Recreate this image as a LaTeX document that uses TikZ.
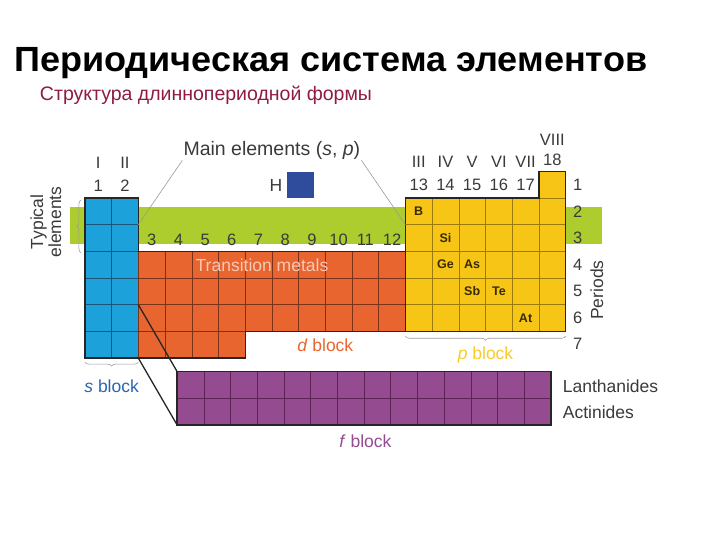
\documentclass[tikz,border=0pt]{standalone}
\usepackage{fontspec}
\setmainfont{Liberation Sans}
\setsansfont{Liberation Sans}
\usetikzlibrary{decorations.pathreplacing}
\definecolor{sblue}{HTML}{1DA1DB}
\definecolor{sgrid}{HTML}{1A5478}
\definecolor{dorange}{HTML}{E8652F}
\definecolor{dgrid}{HTML}{7A3318}
\definecolor{pyellow}{HTML}{F6C516}
\definecolor{pgrid}{HTML}{9C7A0A}
\definecolor{fpurple}{HTML}{954B8F}
\definecolor{fgrid}{HTML}{5E2257}
\definecolor{tgreen}{HTML}{ADCD2F}
\definecolor{hblue}{HTML}{2F4C9C}
\definecolor{labelgray}{HTML}{3A3A3A}
\definecolor{subred}{HTML}{8E1B45}
\definecolor{symbrown}{HTML}{3A2A00}
\definecolor{bracegray}{HTML}{9A9A9A}
\begin{document}
\begin{tikzpicture}[x=26.7pt,y=26.7pt,font=\sffamily,
 cellgrid/.style={step=1,line width=0.5pt},
 blockedge/.style={line width=1.3pt,draw=black!85},
 lbl/.style={text=labelgray,inner sep=1pt,font=\sffamily\fontsize{17.5}{18}\selectfont},
 num/.style={text=labelgray,inner sep=1pt,font=\sffamily\fontsize{16.5}{17}\selectfont},
 sym/.style={text=symbrown,inner sep=1pt,font=\sffamily\bfseries\fontsize{12.5}{13}\selectfont},
 leader/.style={draw=gray!80,line width=0.6pt},
 brc/.style={draw=bracegray,line width=0.6pt,decorate,decoration={brace,amplitude=4pt}}]
\useasboundingbox (-3.18,-6.82) rectangle (23.78,13.41);

% titles
\node[anchor=base west,inner sep=0pt,font=\sffamily\bfseries\fontsize{35}{35}\selectfont] (title) at (-2.66,10.75) {\scalebox{1.03}[1]{Периодическая система элементов}};
\node[anchor=west,inner sep=0pt,text=subred,font=\sffamily\fontsize{19.5}{20}\selectfont] (subtitle) at (-1.69,9.85) {Структура длиннопериодной формы};

\fill[tgreen] (-0.56,4.27) rectangle (19.36,5.66); %typical band

% s block
\fill[sblue] (0,0) rectangle (2,6);
\draw[cellgrid,draw=sgrid] (0,0) grid (2,6);
\draw[blockedge] (0,0) rectangle (2,6);

% d block
\fill[dorange] (2,1) rectangle (12,4) (2,0) rectangle (6,1);
\draw[cellgrid,draw=dgrid] (2,1) grid (12,4) (2,0) grid (6,1);
\draw[blockedge] (2,4) -- (12,4) -- (12,1) -- (6,1) -- (6,0) -- (2,0);

% p block
\fill[pyellow] (12,1) rectangle (18,6) (17,6) rectangle (18,7);
\draw[cellgrid,draw=pgrid] (12,1) grid (18,6) (17,6) grid (18,7);
\draw[blockedge] (12,1) -- (12,6) -- (17,6) -- (17,7) -- (18,7) -- (18,1) -- cycle;

% f block
\fill[fpurple] (3.45,-2.5) rectangle (17.45,-0.5);
\draw[cellgrid,draw=fgrid,shift={(3.45,-2.5)}] (0,0) grid (14,2);
\draw[blockedge] (3.45,-2.5) rectangle (17.45,-0.5);

% hydrogen
\fill[hblue] (7.58,6.0) rectangle (8.58,6.97);
\node[lbl] (hlbl) at (7.15,6.48) {H};

% corners for connectors
\coordinate (s-row6) at (2,2);
\coordinate (s-row7) at (2,0);
\coordinate (f-nw) at (3.45,-0.5);
\coordinate (f-sw) at (3.45,-2.5);
\coordinate (s-row3) at (2,5);
\coordinate (p-row3) at (12,5);
\draw[line width=1.3pt,draw=black!85] (s-row6) -- (f-nw) (s-row7) -- (f-sw); %insert lines

\node[lbl,font=\sffamily\fontsize{19.5}{20}\selectfont] (main) at (7.0,7.79) {Main elements (\textit{s}, \textit{p})};
\draw[leader] (main.south west) -- (s-row3);
\draw[leader] (main.south east) -- (p-row3);

% group labels
\path (0.5,7.3) node[num] (r1) {I} (1.5,7.3) node[num] (r2) {II}
  (0.5,6.44) node[num] (g1) {1} (1.5,6.44) node[num] (g2) {2};
\path (2.5,4.42) node[num] (g3) {3} (3.5,4.42) node[num] (g4) {4}
  (4.5,4.42) node[num] (g5) {5} (5.5,4.42) node[num] (g6) {6}
  (6.5,4.42) node[num] (g7) {7} (7.5,4.42) node[num] (g8) {8}
  (8.5,4.42) node[num] (g9) {9} (9.5,4.42) node[num] (g10) {10}
  (10.5,4.42) node[num] (g11) {11} (11.5,4.42) node[num] (g12) {12};
\path (12.5,7.34) node[num] (r3) {III} (13.5,7.34) node[num] (r4) {IV}
  (14.5,7.34) node[num] (r5) {V} (15.5,7.34) node[num] (r6) {VI}
  (16.5,7.34) node[num] (r7) {VII} (17.5,8.16) node[num] (r8) {VIII};
\path (12.5,6.48) node[num] (g13) {13} (13.5,6.48) node[num] (g14) {14}
  (14.5,6.48) node[num] (g15) {15} (15.5,6.48) node[num] (g16) {16}
  (16.5,6.48) node[num] (g17) {17} (17.5,7.42) node[num] (g18) {18};

% periods
\path (18.45,6.5) node[num] (per1) {1} (18.45,5.5) node[num] (per2) {2}
  (18.45,4.5) node[num] (per3) {3} (18.45,3.5) node[num] (per4) {4}
  (18.45,2.5) node[num] (per5) {5} (18.45,1.5) node[num] (per6) {6}
  (18.45,0.55) node[num] (per7) {7};
\node[lbl,rotate=90] (periods) at (19.17,2.55) {Periods};
\node[lbl,rotate=90,align=center] (typical) at (-1.46,5.1) {Typical\\elements};

% element symbols
\path (12.5,5.5) node[sym] (elB) {B} (13.5,4.5) node[sym] (elSi) {Si}
  (13.5,3.5) node[sym] (elGe) {Ge} (14.5,3.5) node[sym] (elAs) {As}
  (14.5,2.5) node[sym] (elSb) {Sb} (15.5,2.5) node[sym] (elTe) {Te}
  (16.5,1.5) node[sym] (elAt) {At};

% block names
\node[lbl,text=dorange!35!white] (trans) at (6.63,3.48) {Transition metals};
\node[lbl,text=dorange] (dname) at (9.0,0.49) {\textit{d} block};
\node[lbl,text=pyellow!90!white] (pname) at (15.0,0.11) {\textit{p} block};
\node[lbl,text=hblue!70!sblue] (sname) at (1.0,-1.05) {\textit{s} block};
\node[lbl,text=fpurple] (fname) at (10.5,-3.1) {\textit{f} block};
\node[lbl,anchor=west] (lanth) at (17.85,-1.05) {Lanthanides};
\node[lbl,anchor=west] (actin) at (17.85,-2.03) {Actinides};

% braces
\draw[brc] (-0.15,3.95) -- (-0.15,5.92); %typical
\draw[brc] (2,-0.15) -- (0,-0.15); %s
\draw[brc] (18,0.82) -- (12,0.82); %p
\end{tikzpicture}
\end{document}
